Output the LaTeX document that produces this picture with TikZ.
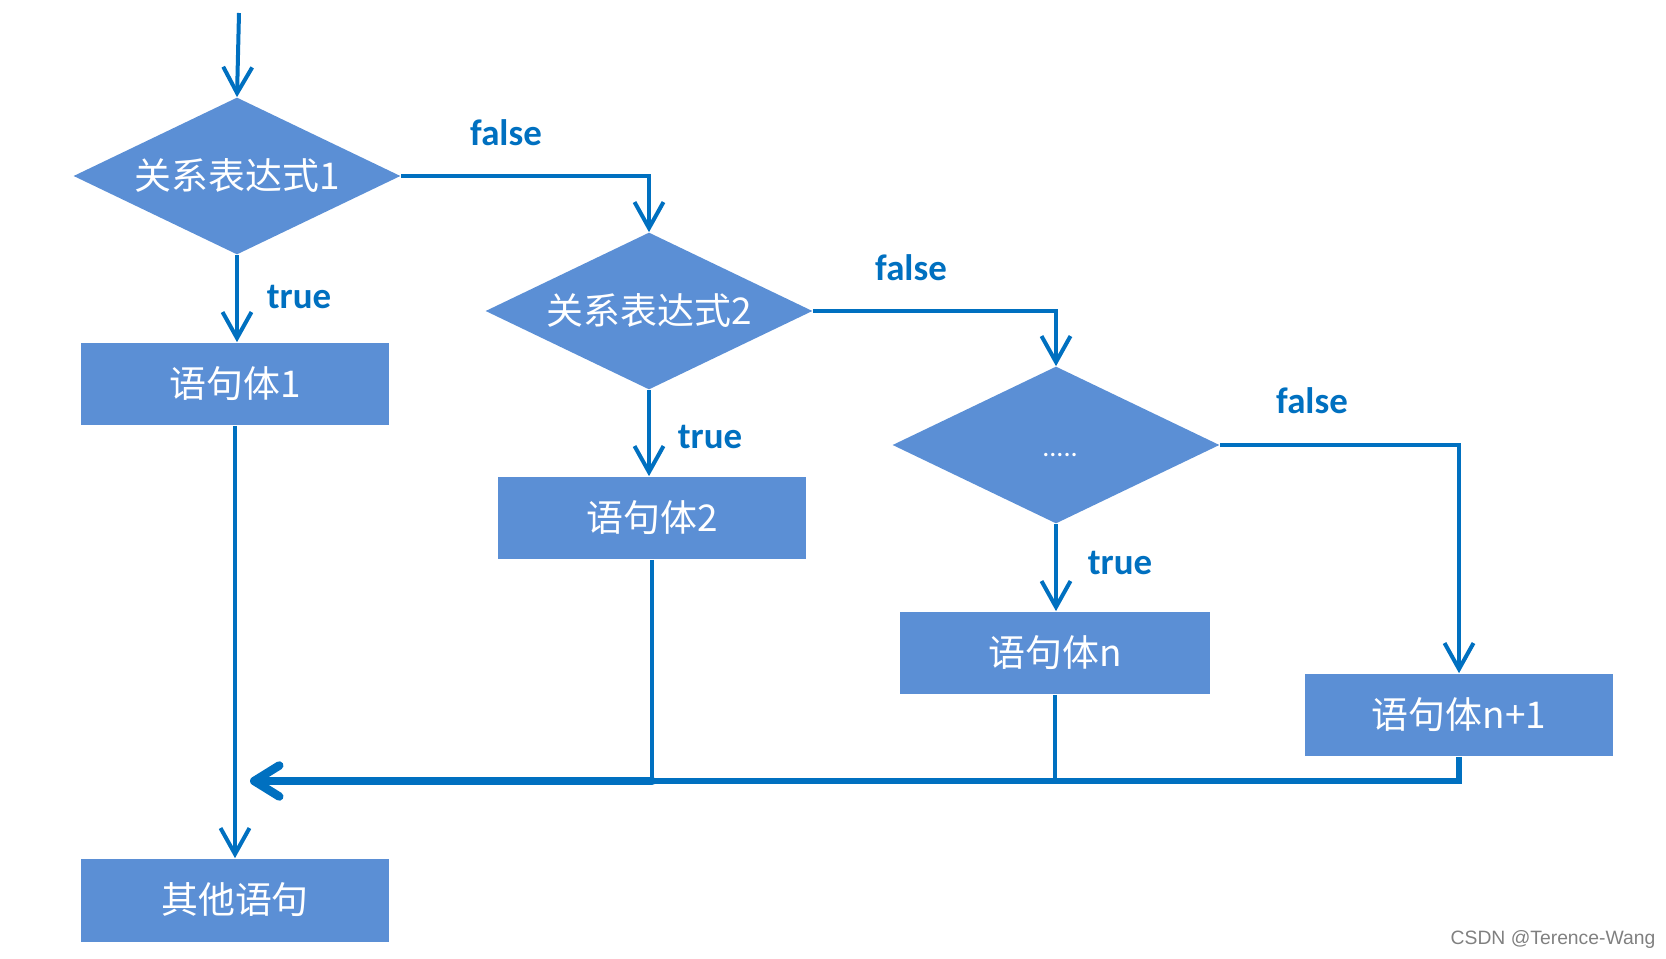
\documentclass[tikz,border=0pt]{standalone}
\usepackage{fontspec}
\setmainfont{Carlito}
\newfontfamily\cjk{Noto Sans CJK SC}
\newfontfamily\wmfont{Liberation Sans}
\usetikzlibrary{shapes.geometric,arrows.meta}
\definecolor{boxblue}{RGB}{91,143,213}
\definecolor{lineblue}{RGB}{0,112,192}

\begin{document}
\begin{tikzpicture}[x=0.02cm,y=0.02cm,
  cond/.style={diamond, fill=boxblue, aspect=2, inner sep=0pt,
    minimum width=6.54cm, minimum height=3.14cm, text=white,
    font=\cjk\fontsize{21}{25}\selectfont},
  stmt/.style={rectangle, fill=boxblue, inner sep=0pt,
    minimum width=6.16cm, minimum height=1.66cm, text=white,
    font=\cjk\fontsize{21}{25}\selectfont},
  lbl/.style={text=lineblue, font=\bfseries\fontsize{21}{25}\selectfont},
  flow/.style={draw=lineblue, line width=0.08cm,
    -{Straight Barb[length=0.52cm,width=0.58cm]}},
  link/.style={draw=lineblue, line width=0.08cm}]
\useasboundingbox (0,0) rectangle (1666,958);

% conditions
\node[cond] (d1) at (237,782) {关系表达式1};
\node[cond] (d2) at (649,647) {关系表达式2};
\node[cond] (d3) at (1056,513) {};
\node[text=white, font=\fontsize{16}{16}\selectfont] (d3dots) at (1060,503) {.....};

% statements
\node[stmt] (b1) at (235,574) {语句体1};
\node[stmt] (b2) at (652,440) {语句体2};
\node[stmt, minimum width=6.22cm] (bn) at (1055,305) {语句体n};
\node[stmt] (bn1) at (1459,243) {语句体n+1};
\node[stmt] (other) at (235,58) {其他语句};

% labels
\node[lbl] (f1) at (506,825) {false};
\node[lbl] (t1) at (299,661) {true};
\node[lbl] (f2) at (911,690) {false};
\node[lbl] (t2) at (710,521) {true};
\node[lbl] (f3) at (1312,557) {false};
\node[lbl] (t3) at (1120,395) {true};

\node[text=gray, font=\wmfont\fontsize{11}{13}\selectfont] (wm) at (1553,19) {CSDN @Terence-Wang};

% flow
\coordinate (start) at (239,945);
\coordinate (join) at (250,177);
\draw[flow] (start) -- (d1.north);
\draw[flow] (d1.south) -- (d1.south |- b1.north);
\draw[flow] (d1.east) -| (d2.north);
\draw[flow] (d2.south) -- (d2.south |- b2.north);
\draw[flow] (d2.east) -| (d3.north);
\draw[flow] (d3.south) -- (d3.south |- bn.north);
\draw[flow] (d3.east) -| (bn1.north);
\draw[flow] (b1.south) -- (other.north);

% merge back
\draw[link, line width=0.11cm] (bn1.south) |- (b2.south |- join);
\draw[link] (bn.south) -- (bn.south |- join);
\draw[link] (b2.south) -- (b2.south |- join);
\draw[link, line width=0.17cm, line cap=round,
  -{Straight Barb[length=0.5cm,width=0.62cm,round]}] (b2.south |- join) -- (join);

\end{tikzpicture}
\end{document}
